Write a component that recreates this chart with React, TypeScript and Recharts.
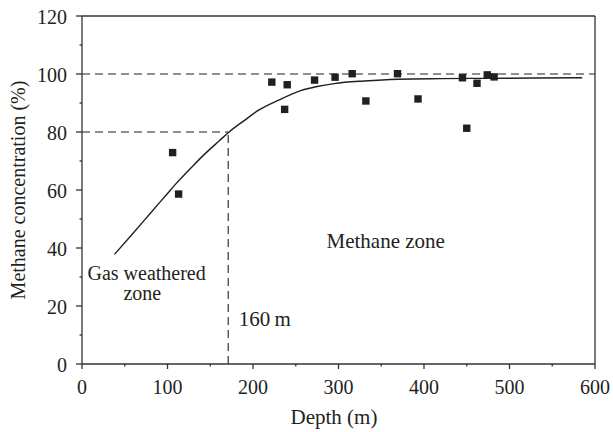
import React from "react";
import { ComposedChart, Line, Scatter, XAxis, YAxis, ReferenceLine, ReferenceDot } from "recharts";

// fitted curve (depth m -> methane %)
const curveDepth = [38, 60, 80, 100, 110, 130, 145, 160, 172, 190, 207, 230, 255, 275, 295, 330, 370, 420, 470, 530, 585];
const curveConc = [37.8, 45.2, 52, 58.8, 62.2, 68.4, 72.8, 76.8, 80, 84, 87.6, 91, 94.2, 95.7, 96.7, 97.6, 98.2, 98.4, 98.5, 98.6, 98.7];

// measured samples
const sampleDepth = [106, 113, 222, 237, 240, 272, 296, 316, 332, 369, 393, 445, 450, 462, 474, 482];
const sampleConc = [72.9, 58.6, 97.2, 87.8, 96.3, 97.9, 98.9, 100.1, 90.7, 100.1, 91.4, 98.7, 81.3, 96.8, 99.7, 99.0];

const depthTicks = [0, 50, 100, 150, 200, 250, 300, 350, 400, 450, 500, 550, 600];
const concTicks = [0, 10, 20, 30, 40, 50, 60, 70, 80, 90, 100, 110, 120];

const boundaryDepth = 171;
const boundaryConc = 80;

const curve = curveDepth.map((x, i) => ({ x, y: curveConc[i] }));
const samples = sampleDepth.map((x, i) => ({ x, y: sampleConc[i] }));

const FONT = "Liberation Serif, Times New Roman, DejaVu Serif, serif";
const INK = "#231f20";
const AXIS = "#333";
const txt = { fontFamily: FONT, fontSize: 20, fill: INK };
const big = { ...txt, fontSize: 21 };
const small = { ...txt, fontSize: 20 };

const XTick = (props: any) => {
  const { x, y, payload } = props;
  const major = payload.value % 100 === 0;
  return (
    <g>
      <line x1={x} y1={y} x2={x} y2={y + (major ? 5 : 2.5)} stroke={AXIS} strokeWidth={1.3} />
      {major && (
        <text x={x} y={y + 30} textAnchor="middle" style={txt}>
          {payload.value}
        </text>
      )}
    </g>
  );
};

const YTick = (props: any) => {
  const { x, y, payload } = props;
  const major = payload.value % 20 === 0;
  return (
    <g>
      <line x1={x} y1={y} x2={x - (major ? 6 : 2.5)} y2={y} stroke={AXIS} strokeWidth={1.3} />
      {major && (
        <text x={x - 15} y={y + 7.5} textAnchor="end" style={txt}>
          {payload.value}
        </text>
      )}
    </g>
  );
};

const Square = (props: any) => {
  const { cx, cy } = props;
  return <rect x={cx - 3.7} y={cy - 3.7} width={7.4} height={7.4} fill={INK} />;
};

const note = (t: string, st: any = big) => (props: any) => {
  const { viewBox } = props;
  return (
    <text x={viewBox.x} y={viewBox.y} style={st}>
      {t}
    </text>
  );
};

export default function App() {
  return (
    <div style={{ position: "absolute", left: 0, top: 0, background: "#fff", fontFamily: FONT }}>
      <ComposedChart width={613} height={432} margin={{ top: 16, right: 18, left: 0, bottom: 0 }}>
        <XAxis
          type="number"
          dataKey="x"
          domain={[0, 600]}
          ticks={depthTicks}
          interval={0}
          tickSize={0}
          tickMargin={0}
          tickLine={false}
          tick={<XTick />}
          height={68}
          stroke={AXIS}
          strokeWidth={1.3}
          label={() => (
            <text x={334} y={424} textAnchor="middle" style={big}>
              Depth (m)
            </text>
          )}
        />
        <YAxis
          type="number"
          dataKey="y"
          domain={[0, 120]}
          ticks={concTicks}
          interval={0}
          tickSize={0}
          tickMargin={0}
          tickLine={false}
          tick={<YTick />}
          width={82}
          stroke={AXIS}
          strokeWidth={1.3}
          label={() => (
            <text x={25} y={190} transform="rotate(-90, 25, 190)" textAnchor="middle" style={txt}>
              Methane concentration (%)
            </text>
          )}
        />
        <ReferenceLine y={120} stroke={AXIS} strokeWidth={1.3} />
        <ReferenceLine x={600} stroke={AXIS} strokeWidth={1.3} />
        <ReferenceLine y={100} stroke={INK} strokeWidth={1.1} strokeDasharray="8 5" />
        <ReferenceLine
          segment={[
            { x: 0, y: boundaryConc },
            { x: boundaryDepth, y: boundaryConc },
          ]}
          stroke={INK}
          strokeWidth={1.1}
          strokeDasharray="8 5"
        />
        <ReferenceLine
          segment={[
            { x: boundaryDepth, y: 0 },
            { x: boundaryDepth, y: boundaryConc },
          ]}
          stroke={INK}
          strokeWidth={1.1}
          strokeDasharray="8 5"
        />
        <Line
          data={curve}
          dataKey="y"
          type="monotone"
          stroke={INK}
          strokeWidth={1.4}
          dot={false}
          isAnimationActive={false}
        />
        <Scatter data={samples} dataKey="y" fill={INK} shape={<Square />} isAnimationActive={false} />
        <ReferenceDot x={286} y={40} r={0} stroke="none" label={note("Methane zone")} />
        <ReferenceDot x={6.4} y={29} r={0} stroke="none" label={note("Gas weathered", small)} />
        <ReferenceDot x={48.5} y={22.1} r={0} stroke="none" label={note("zone", small)} />
        <ReferenceDot x={183.4} y={13.1} r={0} stroke="none" label={note("160\u2009m")} />
      </ComposedChart>
    </div>
  );
}
